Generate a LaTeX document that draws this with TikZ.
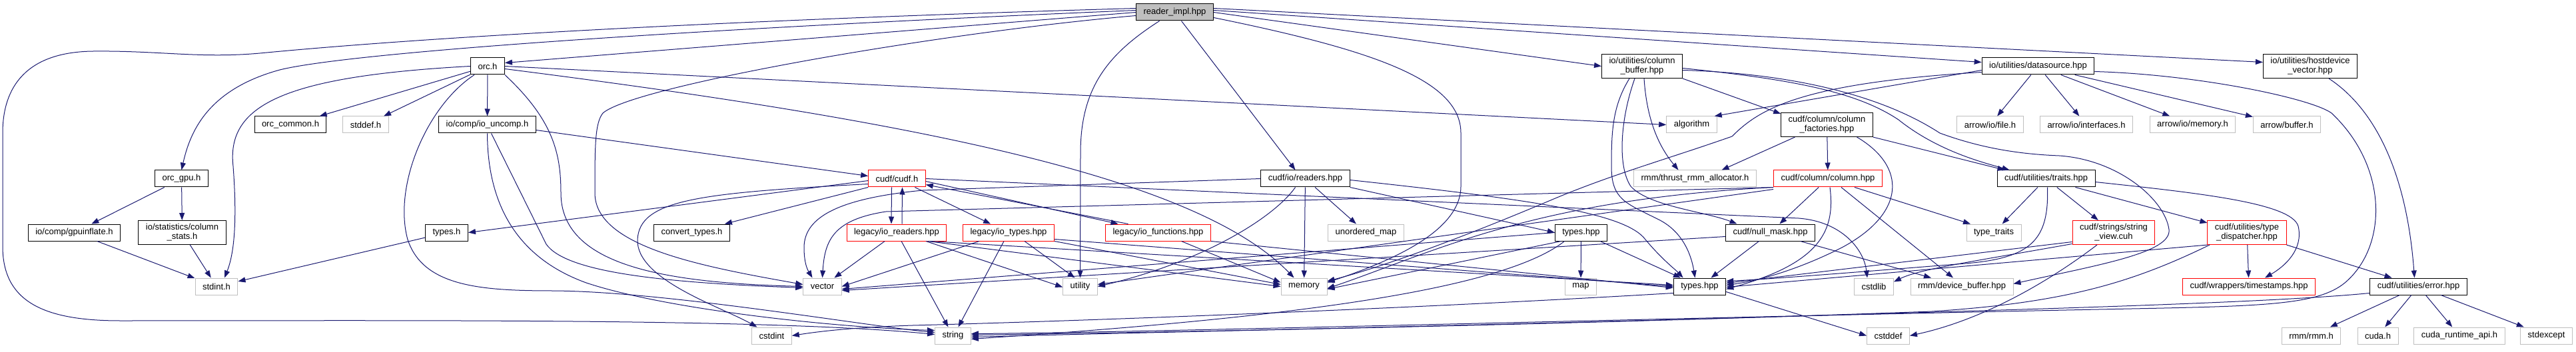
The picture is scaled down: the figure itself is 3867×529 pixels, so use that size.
\documentclass[tikz,border=0pt]{standalone}
\usepackage{fontspec}
\setmainfont{Liberation Sans}
\usetikzlibrary{arrows.meta}
\definecolor{edgeblue}{HTML}{191970}
\definecolor{sysgray}{HTML}{BFBFBF}

\begin{document}
\begin{tikzpicture}[
  x=1pt, y=-1pt,
  font=\fontsize{13}{14}\selectfont,
  box/.style={draw=black, line width=1pt, inner xsep=11pt, inner ysep=5pt, minimum height=25pt, align=center},
  sysbox/.style={box, draw=sysgray},
  redbox/.style={box, draw=red},
  rootbox/.style={box, fill=sysgray},
  arrow/.style={-{Triangle[length=11pt,width=8pt]}, draw=edgeblue, line width=1pt}
]
\useasboundingbox (0,0) rectangle (3867,529);

\node[rootbox] (impl) at (1763.5,18.5) {reader\_impl.hpp};
\node[box] (orc) at (732,99.5) {orc.h};
\node[box] (colbuf) at (2465,99.5) {io/utilities/column\\\_buffer.hpp};
\node[box] (datasrc) at (3059.5,99.5) {io/utilities/datasource.hpp};
\node[box] (hdvec) at (3468,99.5) {io/utilities/hostdevice\\\_vector.hpp};

\node[box] (orccommon) at (436,187.5) {orc\_common.h};
\node[sysbox] (stddefh) at (549,187.5) {stddef.h};
\node[box] (iouncomp) at (731.5,187.5) {io/comp/io\_uncomp.h};
\node[sysbox] (algo) at (2539.5,187.5) {algorithm};
\node[box] (colfact) at (2742.5,187.5) {cudf/column/column\\\_factories.hpp};
\node[sysbox] (arrfile) at (2987.5,187.5) {arrow/io/file.h};
\node[sysbox] (arrintf) at (3132,187.5) {arrow/io/interfaces.h};
\node[sysbox] (arrmem) at (3291.5,187.5) {arrow/io/memory.h};
\node[sysbox] (arrbuf) at (3433,187.5) {arrow/buffer.h};

\node[box] (orcgpu) at (272.5,268.5) {orc\_gpu.h};
\node[redbox] (cudfh) at (1346.5,268.5) {cudf/cudf.h};
\node[box] (readers) at (1959.5,268.5) {cudf/io/readers.hpp};
\node[sysbox] (thrustalloc) at (2544.5,268.5) {rmm/thrust\_rmm\_allocator.h};
\node[redbox] (column) at (2744,268.5) {cudf/column/column.hpp};
\node[box] (traits) at (3071.5,268.5) {cudf/utilities/traits.hpp};

\node[box] (gpuinfl) at (111.5,349.5) {io/comp/gpuinflate.h};
\node[box] (colstats) at (273.5,349.5) {io/statistics/column\\\_stats.h};
\node[box] (typesh) at (670.5,349.5) {types.h};
\node[box] (convtypes) at (1038.5,349.5) {convert\_types.h};
\node[redbox] (ioreaders) at (1346,349.5) {legacy/io\_readers.hpp};
\node[redbox] (iotypes) at (1514,349.5) {legacy/io\_types.hpp};
\node[redbox] (iofuncs) at (1738.5,349.5) {legacy/io\_functions.hpp};
\node[sysbox] (umap) at (2050.5,349.5) {unordered\_map};
\node[box] (iotypeshpp) at (2373.5,349.5) {types.hpp};
\node[box] (nullmask) at (2657.5,349.5) {cudf/null\_mask.hpp};
\node[sysbox] (typetraits) at (2993,349.5) {type\_traits};
\node[redbox] (strview) at (3173,349.5) {cudf/strings/string\\\_view.cuh};
\node[redbox] (typedisp) at (3373,349.5) {cudf/utilities/type\\\_dispatcher.hpp};

\node[sysbox] (stdinth) at (325,430.5) {stdint.h};
\node[sysbox] (vect) at (1234.5,430.5) {vector};
\node[sysbox] (util) at (1621.5,430.5) {utility};
\node[sysbox] (mem) at (1957.5,430.5) {memory};
\node[sysbox] (mapn) at (2373,430.5) {map};
\node[box] (typeshpp) at (2551.5,430.5) {types.hpp};
\node[sysbox] (cstdlibn) at (2813,430.5) {cstdlib};
\node[sysbox] (devbuf) at (2945,430.5) {rmm/device\_buffer.hpp};
\node[redbox] (stamps) at (3376,430.5) {cudf/wrappers/timestamps.hpp};
\node[box] (errhpp) at (3630.5,430.5) {cudf/utilities/error.hpp};

\node[sysbox] (cstdintn) at (1158.5,504.5) {cstdint};
\node[sysbox] (strn) at (1430.5,504.5) {string};
\node[sysbox] (cstddefn) at (2834.5,504.5) {cstddef};
\node[sysbox] (rmmh) at (3469.5,504.5) {rmm/rmm.h};
\node[sysbox] (cudah) at (3569.5,504.5) {cuda.h};
\node[sysbox] (cudart) at (3692,504.5) {cuda\_runtime\_api.h};
\node[sysbox] (stdexc) at (3822.5,504.5) {stdexcept};

\draw[arrow] (impl.west) -- ([yshift=5pt]orc.east);
\draw[arrow] ([yshift=3pt]impl.west) .. controls (1000,45) and (520,80) .. (420,105) .. controls (310,135) and (285,200) .. (orcgpu.north);
\draw[arrow] ([yshift=6pt]impl.west) .. controls (1100,30) and (650,55) .. (390,80) .. controls (300,88) and (240,76) .. (140,77) .. controls (40,78) and (4,130) .. (4,200) -- (4,370) .. controls (4,450) and (60,482) .. (180,482) .. controls (600,482) and (1150,478) .. ([yshift=2pt]strn.west);
\draw[arrow] ([yshift=-5pt]impl.west) .. controls (1400,50) and (950,130) .. (905,170) .. controls (893,185) and (893,220) .. (893,290) .. controls (893,370) and (1050,400) .. ([yshift=3pt]vect.west);
\draw[arrow] ([xshift=-23pt]impl.south) .. controls (1665,80) and (1622,130) .. (1622,230) -- (util.north);
\draw[arrow] ([xshift=10pt]impl.south) -- ([xshift=-15pt]readers.north);
\draw[arrow] ([yshift=-8pt]impl.east) .. controls (2060,75) and (2193,120) .. (2193,200) -- (2193,280) .. controls (2193,350) and (2080,395) .. ([yshift=6pt]mem.east);
\draw[arrow] (impl.east) -- (colbuf.west);
\draw[arrow] ([yshift=3pt]impl.east) -- ([yshift=6pt]datasrc.west);
\draw[arrow] ([yshift=6pt]impl.east) -- ([yshift=6pt]hdvec.west);

\draw[arrow] (orc) -- (orccommon);
\draw[arrow] (orc) -- (stddefh);
\draw[arrow] (orc) -- (iouncomp);
\draw[arrow] (orc.west) .. controls (420,115) and (340,160) .. (350,250) .. controls (356,330) and (352,380) .. ([xshift=12pt]stdinth.north);
\draw[arrow] ([xshift=-20pt]orc.south) .. controls (640,160) and (590,280) .. (612,360) .. controls (635,430) and (720,437) .. (830,437) .. controls (1000,438) and (1300,490) .. ([yshift=5pt]strn.west);
\draw[arrow] (orc.south east) .. controls (830,180) and (842,230) .. (842,290) .. controls (842,400) and (1000,425) .. (vect.west);
\draw[arrow] (orc.east) -- (algo.west);
\draw[arrow] ([yshift=-4pt]orc.east) .. controls (1400,185) and (1800,270) .. ([xshift=-15pt]mem.north);

\draw[arrow] (orcgpu) -- (gpuinfl);
\draw[arrow] (orcgpu) -- (colstats);
\draw[arrow] (gpuinfl) -- (stdinth);
\draw[arrow] (colstats) -- (stdinth);
\draw[arrow] (typesh) -- (stdinth);

\draw[arrow] ([yshift=-8pt]iouncomp.east) -- ([yshift=4pt]cudfh.west);
\draw[arrow] ([xshift=6pt]iouncomp.south) -- (820,367) .. controls (850,410) and (1000,425) .. ([yshift=-2pt]vect.west);
\draw[arrow] (iouncomp.south) .. controls (732,300) and (770,385) .. (880,425) .. controls (1000,465) and (1250,492) .. ([yshift=8pt]strn.west);

\draw[arrow] ([yshift=-3pt]cudfh.west) -- (typesh.east);
\draw[arrow] (cudfh.south west) -- ([xshift=-8pt]convtypes.north east);
\draw[arrow] ([yshift=-8pt]cudfh.west) .. controls (1050,290) and (960,300) .. (957,360) .. controls (955,420) and (1080,460) .. ([xshift=-22pt]cstdintn.north);
\draw[arrow] ([xshift=-8pt]cudfh.south) -- ([xshift=-8pt]ioreaders.north);
\draw[arrow] ([xshift=8pt]ioreaders.north) -- ([xshift=8pt]cudfh.south);
\draw[arrow] (cudfh) -- (iotypes);
\draw[arrow] ([yshift=-4pt]cudfh.east) -- ([xshift=-60pt]iofuncs.north);
\draw[arrow] ([xshift=-45pt]iofuncs.north) -- ([yshift=-9pt]cudfh.east);
\draw[arrow] (cudfh.east) -- (2700,328) .. controls (2765,333) and (2798,375) .. ([xshift=-10pt]cstdlibn.north);

\draw[arrow] (ioreaders) -- (vect);
\draw[arrow] (ioreaders) -- (strn);
\draw[arrow] ([xshift=44pt]ioreaders.south) -- ([yshift=-1pt]util.west);
\draw[arrow] ([xshift=47pt]ioreaders.south) -- (mem.west);
\draw[arrow] ([xshift=50pt]ioreaders.south) -- ([yshift=2pt]typeshpp.west);

\draw[arrow] ([xshift=-44pt]iotypes.south) -- (vect.east);
\draw[arrow] ([xshift=-7pt]iotypes.south) -- ([xshift=8pt]strn.north);
\draw[arrow] ([xshift=24pt]iotypes.south) -- ([xshift=-8pt]util.north);
\draw[arrow] (iotypes.south east) -- ([yshift=3pt]mem.west);
\draw[arrow] ([yshift=3pt]iotypes.south east) -- (typeshpp.west);

\draw[arrow] ([xshift=35pt]iofuncs.south) -- ([yshift=6pt]mem.west);
\draw[arrow] (iofuncs.south east) -- ([yshift=-2pt]typeshpp.west);

\draw[arrow] ([xshift=-15pt]readers.south) .. controls (1910,330) and (1800,395) .. (util.east);
\draw[arrow] (readers) -- (mem);
\draw[arrow] (readers) -- (umap);
\draw[arrow] (readers.south east) -- (iotypeshpp.west);
\draw[arrow] ([yshift=-2pt]readers.east) .. controls (2300,300) and (2440,320) .. (2470,360) .. controls (2495,390) and (2515,405) .. ([xshift=-25pt]typeshpp.north);
\draw[arrow] (readers.west) -- (1385,286) .. controls (1262,298) and (1207,325) .. (1207,372) .. controls (1207,395) and (1212,405) .. ([xshift=-15pt]vect.north);

\draw[arrow] (iotypeshpp) -- (mapn);
\draw[arrow] (iotypeshpp) -- (typeshpp);
\draw[arrow] ([xshift=-30pt]iotypeshpp.south) -- ([yshift=-4pt]mem.east);
\draw[arrow] (iotypeshpp.west) -- ([yshift=-4pt]vect.east);
\draw[arrow] ([xshift=-25pt]iotypeshpp.south) .. controls (2250,440) and (1900,480) .. ([yshift=-5pt]strn.east);

\draw[arrow] (colbuf.south east) -- ([yshift=-2pt]colfact.north west);
\draw[arrow] ([xshift=3pt]colbuf.south) .. controls (2472,180) and (2490,220) .. ([xshift=-25pt]thrustalloc.north);
\draw[arrow] ([xshift=-19pt]colbuf.south) .. controls (2420,160) and (2419,200) .. (2419,250) .. controls (2419,300) and (2440,305) .. (2490,330) .. controls (2530,350) and (2540,390) .. ([xshift=-7pt]typeshpp.north);
\draw[arrow] ([xshift=-11pt]colbuf.south) .. controls (2432,180) and (2428,250) .. (2448,280) .. controls (2475,310) and (2560,318) .. ([xshift=-50pt]nullmask.north);
\draw[arrow] ([yshift=-3pt]colbuf.east) .. controls (2700,120) and (2790,140) .. (2850,180) .. controls (2910,228) and (2980,245) .. ([xshift=-55pt]traits.north);
\draw[arrow] ([yshift=-6pt]colbuf.east) .. controls (2680,110) and (2820,140) .. (2912,200) .. controls (2980,225) and (3040,232) .. (3091,234) .. controls (3180,240) and (3250,300) .. (3256,345) .. controls (3260,380) and (3150,398) .. ([yshift=4pt]devbuf.east);

\draw[arrow] (datasrc) -- (arrfile);
\draw[arrow] (datasrc) -- (arrintf);
\draw[arrow] (datasrc) -- (arrmem);
\draw[arrow] (datasrc) -- (arrbuf);
\draw[arrow] ([yshift=-6pt]datasrc.west) -- ([xshift=-4pt]algo.north east);
\draw[arrow] ([yshift=-9pt]datasrc.west) .. controls (2700,125) and (2640,165) .. (2600,205) .. controls (2500,240) and (2420,262) .. (2330,300) .. controls (2200,355) and (2080,400) .. ([yshift=8pt]mem.east);
\draw[arrow] ([yshift=-8pt]datasrc.east) .. controls (3300,112) and (3470,148) .. (3500,170) .. controls (3585,250) and (3585,370) .. (3520,425) .. controls (3480,458) and (3400,460) .. (3200,464) .. controls (2500,478) and (1700,500) .. ([yshift=3pt]strn.east);

\draw[arrow] ([xshift=28pt]hdvec.south) .. controls (3560,160) and (3612,250) .. ([xshift=-6pt]errhpp.north);

\draw[arrow] (colfact) -- (column);
\draw[arrow] ([xshift=-48pt]colfact.south) -- ([xshift=40pt]thrustalloc.north);
\draw[arrow] (colfact.south east) -- ([xshift=-62pt]traits.north);
\draw[arrow] ([xshift=45pt]colfact.south) .. controls (2862,250) and (2862,320) .. (2765,372) .. controls (2700,405) and (2640,422) .. ([yshift=2pt]typeshpp.east);

\draw[arrow] (column) -- (nullmask);
\draw[arrow] ([xshift=3pt]column.south) .. controls (2755,345) and (2735,395) .. ([yshift=-4pt]typeshpp.east);
\draw[arrow] ([xshift=20pt]column.south) -- ([xshift=-13pt]devbuf.north);
\draw[arrow] ([xshift=40pt]column.south) -- ([xshift=-35pt]typetraits.north);
\draw[arrow] (column.south west) -- (1330,318) .. controls (1252,330) and (1238,360) .. (vect.north);
\draw[arrow] (column.south west) .. controls (2300,300) and (2150,380) .. ([yshift=-3pt]mem.east);
\draw[arrow] ([yshift=-3pt]column.south west) -- ([yshift=3pt]util.east);

\draw[arrow] (nullmask) -- (typeshpp);
\draw[arrow] ([xshift=45pt]nullmask.south) -- ([xshift=-46pt]devbuf.north);
\draw[arrow] ([yshift=-6pt]nullmask.west) -- ([yshift=-6pt]vect.east);

\draw[arrow] (traits) -- (typetraits);
\draw[arrow] (traits) -- (strview);
\draw[arrow] ([xshift=44pt]traits.south) -- ([yshift=-4pt]typedisp.north west);
\draw[arrow] ([yshift=-5pt]traits.east) .. controls (3300,290) and (3440,305) .. (3450,340) .. controls (3458,375) and (3430,400) .. ([xshift=24pt]stamps.north);
\draw[arrow] ([xshift=2pt]traits.south) .. controls (3076,360) and (3050,388) .. (2950,396) .. controls (2800,408) and (2650,420) .. ([yshift=8pt]typeshpp.east);

\draw[arrow] ([yshift=-14pt]strview.west) -- ([yshift=5pt]typeshpp.east);
\draw[arrow] ([xshift=-25pt]strview.south) .. controls (3080,420) and (2980,480) .. (cstddefn.east);
\draw[arrow] ([yshift=-17pt]strview.west) .. controls (2950,395) and (2880,405) .. ([yshift=7pt]cstdlibn.east);

\draw[arrow] (typedisp) -- (stamps);
\draw[arrow] (typedisp.south east) -- ([xshift=-40pt]errhpp.north);
\draw[arrow] (typedisp.south west) -- ([yshift=-1pt]typeshpp.east);
\draw[arrow] ([xshift=-56pt]typedisp.south) .. controls (3200,425) and (3100,455) .. (2900,468) .. controls (2300,490) and (1700,500) .. ([yshift=1pt]strn.east);

\draw[arrow] ([yshift=-10pt]errhpp.west) .. controls (3400,456) and (3000,466) .. (2600,478) .. controls (2100,492) and (1700,500) .. ([yshift=-2pt]strn.east);
\draw[arrow] (errhpp) -- (rmmh);
\draw[arrow] (errhpp) -- (cudah);
\draw[arrow] (errhpp) -- (cudart);
\draw[arrow] (errhpp) -- (stdexc);

\draw[arrow] ([yshift=-10pt]typeshpp.west) .. controls (2100,465) and (1600,483) .. (1370,489) .. controls (1280,492) and (1230,498) .. (cstdintn.east);
\draw[arrow] ([yshift=-8pt]typeshpp.east) -- (cstddefn.west);

\end{tikzpicture}
\end{document}
